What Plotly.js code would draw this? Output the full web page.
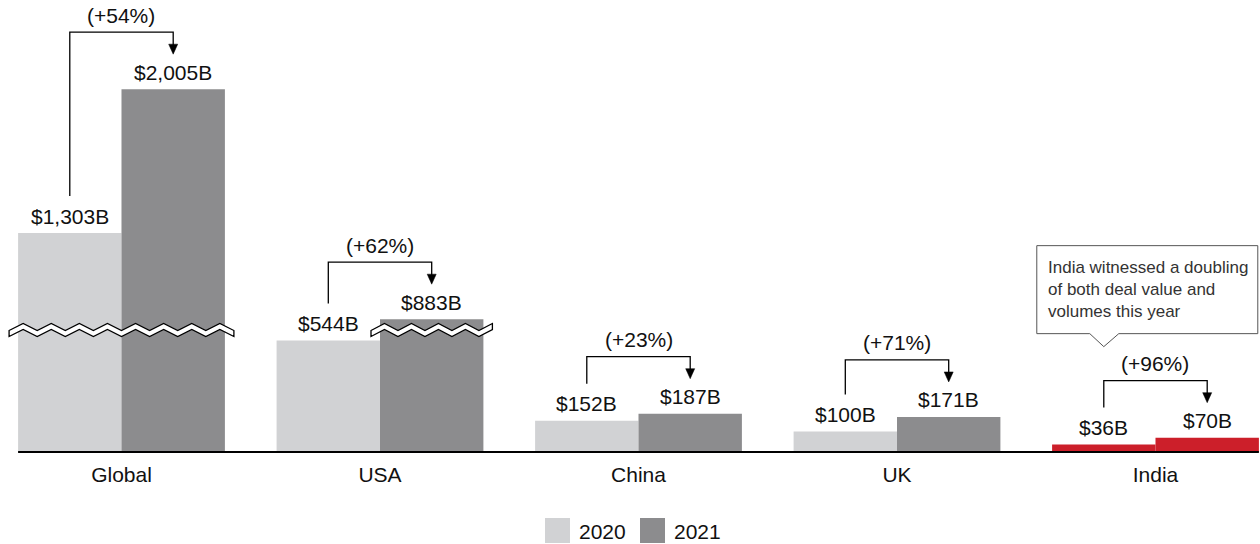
<!DOCTYPE html>
<html>
<head>
<meta charset="utf-8">
<script src="https://cdn.plot.ly/plotly-3.0.1.min.js"></script>
<style>html,body{margin:0;padding:0;background:#fff}#chart{width:1260px;height:544px}</style>
</head>
<body>
<div id="chart"></div>
<script>
// ---------- data ----------
const categories = ['Global', 'USA', 'China', 'UK', 'India'];
const values2020 = [1303, 544, 152, 100, 36];
const values2021 = [2005, 883, 187, 171, 70];
const growthLabels = ['(+54%)', '(+62%)', '(+23%)', '(+71%)', '(+96%)'];
const seriesNames = ['2020', '2021'];
const highlightCategory = 'India';
const calloutText = 'India witnessed a doubling<br>of both deal value and<br>volumes this year';

// ---------- layout constants ----------
const W = 1260, H = 544, PLOT_H = 452, MB = H - PLOT_H;
const BREAK_ABOVE = 700;   // values above this are drawn with a broken axis
const BREAK_CUT = 235;     // amount of value removed by the break
const BREAK_AT = 595;      // display value where the break mark sits
const Y_MAX = 2205;
const X_RANGE = [-0.47, -0.47 + W / 258.5];
const PXU_Y = PLOT_H / Y_MAX;
const PXU_X = W / (X_RANGE[1] - X_RANGE[0]);
const dy = p => p / PXU_Y;
const dx = p => p / PXU_X;
const disp = v => (v > BREAK_ABOVE ? v - BREAK_CUT : v);
const fmt = v => '$' + v.toLocaleString('en-US') + 'B';

const C2020 = '#d1d2d4', C2021 = '#8c8c8e', RED = '#cc1f2a', INK = '#111111';
const FONT = 'Liberation Sans, Arial, Helvetica, sans-serif';

const xs = categories.map((c, i) => i);
const d20 = values2020.map(disp);
const d21 = values2021.map(disp);

const traces = [
  {
    type: 'bar', name: seriesNames[0], x: xs, y: d20,
    marker: { color: categories.map(c => c === highlightCategory ? RED : C2020), line: { width: 0 } },
    hovertext: values2020.map(fmt), hoverinfo: 'text', showlegend: false
  },
  {
    type: 'bar', name: seriesNames[1], x: xs, y: d21,
    marker: { color: categories.map(c => c === highlightCategory ? RED : C2021), line: { width: 0 } },
    hovertext: values2021.map(fmt), hoverinfo: 'text', showlegend: false
  }
];

const shapes = [];
const annotations = [];
const HALF = 0.2; // offset of each bar centre from category centre

categories.forEach((c, i) => {
  const xl = i - HALF, xr = i + HALF;
  // value labels
  annotations.push({ x: xl, y: d20[i] + dy(17), xref: 'x', yref: 'y', text: fmt(values2020[i]),
    showarrow: false, yanchor: 'middle', font: { size: 21, color: INK, family: FONT } });
  annotations.push({ x: xr, y: d21[i] + dy(17), xref: 'x', yref: 'y', text: fmt(values2021[i]),
    showarrow: false, yanchor: 'middle', font: { size: 21, color: INK, family: FONT } });
  // growth bracket
  const yl0 = d20[i] + dy(37);
  const yt = d21[i] + dy(57);
  const ytip = d21[i] + dy(35);
  shapes.push({ type: 'path', xref: 'x', yref: 'y', layer: 'above',
    path: `M ${xl} ${yl0} L ${xl} ${yt} L ${xr} ${yt} L ${xr} ${ytip + dy(9)}`,
    line: { color: '#000', width: 1.3 }, fillcolor: 'rgba(0,0,0,0)' });
  shapes.push({ type: 'path', xref: 'x', yref: 'y', layer: 'above',
    path: `M ${xr - dx(4.5)} ${ytip + dy(10)} L ${xr + dx(4.5)} ${ytip + dy(10)} L ${xr} ${ytip} Z`,
    line: { color: '#000', width: 0.5 }, fillcolor: '#000' });
  annotations.push({ x: i, y: yt + dy(17), xref: 'x', yref: 'y', text: growthLabels[i],
    showarrow: false, yanchor: 'middle', font: { size: 21, color: INK, family: FONT } });

  // axis break marks
  const b20 = values2020[i] > BREAK_ABOVE, b21 = values2021[i] > BREAK_ABOVE;
  if (b20 || b21) {
    const x0 = (b20 ? i - 2 * HALF : i) - dx(9);
    const x1 = (b21 ? i + 2 * HALF : i) + dx(9);
    const n = Math.round((x1 - x0) / dx(14));
    const step = (x1 - x0) / n;
    const A = dy(7), T = dy(6);
    const up = [], lo = [];
    for (let k = 0; k <= n; k++) {
      const x = x0 + k * step;
      const yU = BREAK_AT + T / 2 + (k % 2 ? A / 2 : -A / 2);
      up.push([x, yU]);
      lo.push([x, yU - T]);
    }
    const pts = up.concat(lo.reverse());
    const path = 'M ' + pts.map(p => p[0] + ' ' + p[1]).join(' L ') + ' Z';
    shapes.push({ type: 'path', xref: 'x', yref: 'y', layer: 'above', path,
      line: { color: '#000', width: 1.3 }, fillcolor: '#ffffff' });
  }
});

// callout for highlighted category
const hi = categories.indexOf(highlightCategory);
{
  const tipX = hi - HALF;
  const tipY = d21[hi] + dy(57) + dy(34);
  const yb = tipY + dy(13), ytop = yb + dy(88);
  const xL = tipX - dx(67), xR = tipX + dx(154);
  shapes.push({ type: 'path', xref: 'x', yref: 'y', layer: 'above',
    path: `M ${xL} ${yb} L ${tipX - dx(14)} ${yb} L ${tipX} ${tipY} L ${tipX + dx(15)} ${yb} L ${xR} ${yb} L ${xR} ${ytop} L ${xL} ${ytop} Z`,
    line: { color: '#555555', width: 1 }, fillcolor: '#ffffff' });
  annotations.push({ x: xL + dx(9), y: (yb + ytop) / 2, xref: 'x', yref: 'y', text: calloutText,
    showarrow: false, xanchor: 'left', yanchor: 'middle', align: 'left',
    font: { size: 17, color: '#333333', family: FONT } });
}

// baseline
shapes.push({ type: 'line', xref: 'x', yref: 'paper', x0: -2 * HALF, x1: categories.length - 1 + 2 * HALF,
  y0: 0, y1: 0, line: { color: '#000', width: 2 } });

// custom legend (large square swatches)
const py = p => 1 - p / PLOT_H;
const px = p => p / W;
const legendItems = [
  { name: seriesNames[0], color: C2020, x: 545 },
  { name: seriesNames[1], color: C2021, x: 640 }
];
legendItems.forEach(it => {
  shapes.push({ type: 'rect', xref: 'paper', yref: 'paper', x0: px(it.x), x1: px(it.x + 25),
    y0: py(543), y1: py(518), fillcolor: it.color, line: { width: 0 } });
  annotations.push({ x: px(it.x + 32), y: py(531), xref: 'paper', yref: 'paper', text: it.name,
    showarrow: false, xanchor: 'left', yanchor: 'middle', font: { size: 21, color: INK, family: FONT } });
});

const layout = {
  width: W, height: H,
  margin: { l: 0, r: 0, t: 0, b: MB, pad: 0 },
  paper_bgcolor: '#fff', plot_bgcolor: '#fff',
  barmode: 'group', bargap: 0.2, bargroupgap: 0,
  showlegend: false,
  font: { family: FONT, color: INK, size: 21 },
  xaxis: {
    type: 'linear', range: X_RANGE, tickvals: xs, ticktext: categories,
    showgrid: false, zeroline: false, showline: false, ticks: '',
    ticklabelstandoff: 8,
    tickfont: { size: 21, color: INK, family: FONT }, fixedrange: true
  },
  yaxis: { range: [0, Y_MAX], visible: false, showgrid: false, zeroline: false, fixedrange: true },
  shapes, annotations
};

Plotly.newPlot('chart', traces, layout, { displayModeBar: false, staticPlot: true });
</script>
</body>
</html>
